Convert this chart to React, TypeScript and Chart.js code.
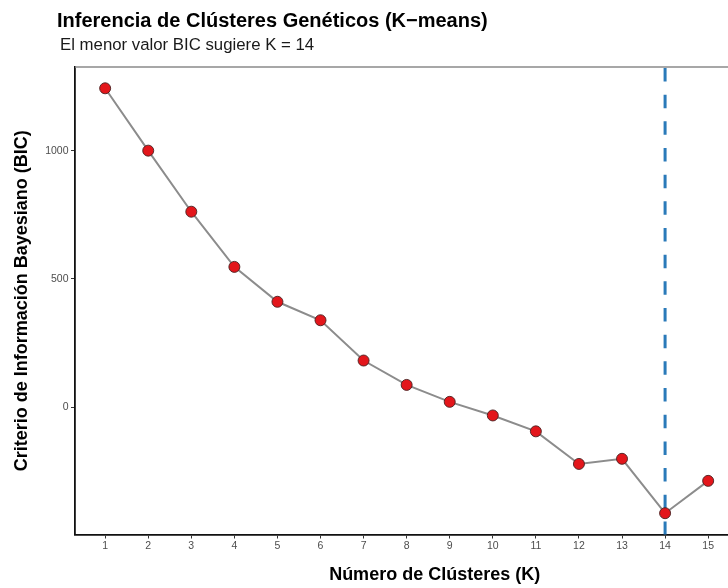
import React, { useEffect, useRef } from "react";
import { Chart, registerables } from "chart.js";

Chart.register(...registerables);

const K_VALUES = [1, 2, 3, 4, 5, 6, 7, 8, 9, 10, 11, 12, 13, 14, 15];
const BIC_VALUES = [1243, 1000, 762, 547, 411, 339, 182, 87, 21, -32, -94, -221, -201, -413, -287];
const X_TICKS = [1, 2, 3, 4, 5, 6, 7, 8, 9, 10, 11, 12, 13, 14, 15];
const Y_TICKS = [0, 500, 1000];
const BEST_K = 14;
const X_MIN = 0.3;
const X_MAX = 17;
const Y_MIN = -496;
const Y_MAX = 1326;

const TITLE = "Inferencia de Clústeres Genéticos (K\u2212means)";
const SUBTITLE = "El menor valor BIC sugiere K = 14";
const X_TITLE = "Número de Clústeres (K)";
const Y_TITLE = "Criterio de Información Bayesiano (BIC)";

const FONT = "'Liberation Sans', Arial, Helvetica, sans-serif";
const CANVAS_W = 810;
const CANVAS_H = 588;

export default function App() {
  const ref = useRef<HTMLCanvasElement | null>(null);

  useEffect(() => {
    if (!ref.current) return;

    const decor = {
      id: "decor",
      beforeDatasetsDraw(chart: any) {
        const { ctx, chartArea, scales } = chart;
        const x = scales.x.getPixelForValue(BEST_K);
        ctx.save();
        ctx.strokeStyle = "#2a7ab9";
        ctx.lineWidth = 3;
        ctx.setLineDash([13.5, 13.17]);
        ctx.beginPath();
        ctx.moveTo(x, chartArea.top + 1);
        ctx.lineTo(x, chartArea.bottom);
        ctx.stroke();
        ctx.restore();
      },
      afterDraw(chart: any) {
        const { ctx, chartArea } = chart;
        ctx.save();
        ctx.strokeStyle = "#8a8a8a";
        ctx.lineWidth = 1.6;
        ctx.beginPath();
        ctx.moveTo(chartArea.left, chartArea.top);
        ctx.lineTo(chart.width, chartArea.top);
        ctx.stroke();
        ctx.fillStyle = "#000";
        ctx.textBaseline = "alphabetic";
        ctx.textAlign = "left";
        ctx.font = `bold 20px ${FONT}`;
        ctx.fillText(TITLE, 57, 26.7);
        ctx.fillStyle = "#1a1a1a";
        ctx.font = `16.8px ${FONT}`;
        ctx.fillText(SUBTITLE, 60, 50);
        ctx.restore();
      },
    };

    const chart = new Chart(ref.current, {
      type: "line",
      data: {
        labels: K_VALUES,
        datasets: [
          {
            data: K_VALUES.map((k, i) => ({ x: k, y: BIC_VALUES[i] })),
            borderColor: "#8c8c8c",
            borderWidth: 2,
            pointRadius: 5.5,
            pointBackgroundColor: "#e3161b",
            pointBorderColor: "#4a2020",
            pointBorderWidth: 0.9,
            tension: 0,
            fill: false,
          },
        ],
      },
      options: {
        responsive: false,
        devicePixelRatio: 1,
        animation: false,
        layout: { padding: { top: 67, left: 0, right: CANVAS_W - 794.3, bottom: 0 } },
        plugins: {
          legend: { display: false },
          tooltip: { enabled: false },
        },
        scales: {
          x: {
            type: "linear",
            min: X_MIN,
            max: X_MAX,
            afterBuildTicks: (s: any) => {
              s.ticks = X_TICKS.map((v) => ({ value: v }));
            },
            afterFit: (s: any) => {
              s.height = CANVAS_H - 534.5;
            },
            ticks: {
              color: "#4d4d4d",
              font: { family: FONT, size: 10.5 },
              padding: 1.5,
              maxRotation: 0,
              autoSkip: false,
              callback: (v: any) => String(v),
            },
            grid: {
              drawOnChartArea: false,
              drawTicks: true,
              tickLength: 4,
              tickColor: "#333",
              tickWidth: 1,
            },
            border: { display: true, color: "#111", width: 1.8 },
            title: {
              display: true,
              text: X_TITLE,
              color: "#000",
              font: { family: FONT, size: 18, weight: "bold" },
              padding: { top: 0, bottom: 2.2 },
            },
          },
          y: {
            type: "linear",
            min: Y_MIN,
            max: Y_MAX,
            afterBuildTicks: (s: any) => {
              s.ticks = Y_TICKS.map((v) => ({ value: v }));
            },
            afterFit: (s: any) => {
              s.width = 75;
            },
            ticks: {
              color: "#4d4d4d",
              font: { family: FONT, size: 10.5 },
              padding: 2.5,
              callback: (v: any) => String(v),
            },
            grid: {
              drawOnChartArea: false,
              drawTicks: true,
              tickLength: 4,
              tickColor: "#333",
              tickWidth: 1,
            },
            border: { display: true, color: "#111", width: 1.8 },
            title: {
              display: true,
              text: Y_TITLE,
              color: "#000",
              font: { family: FONT, size: 18, weight: "bold" },
              padding: { top: 11, bottom: 0 },
            },
          },
        },
      },
      plugins: [decor],
    } as any);

    return () => chart.destroy();
  }, []);

  return (
    <div
      style={{
        position: "absolute",
        left: 0,
        top: 0,
        width: 728,
        height: 588,
        overflow: "hidden",
        background: "#fff",
      }}
    >
      <canvas ref={ref} width={CANVAS_W} height={CANVAS_H} style={{ display: "block" }} />
    </div>
  );
}
